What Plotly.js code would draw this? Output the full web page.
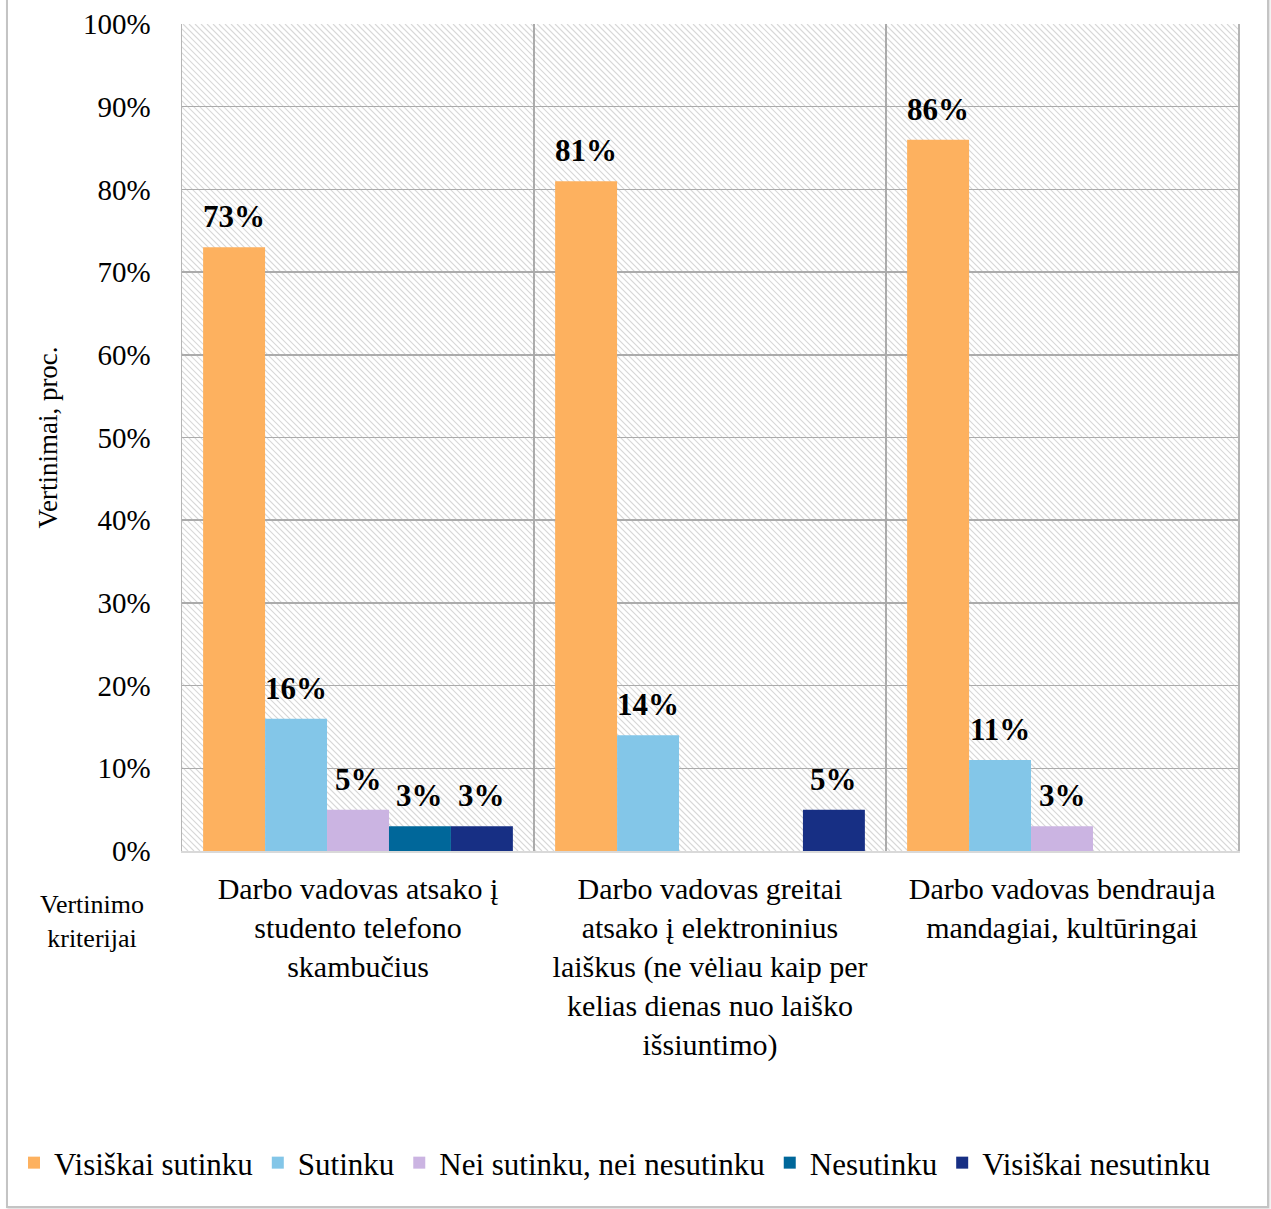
<!DOCTYPE html>
<html>
<head>
<meta charset="utf-8">
<script src="https://cdn.plot.ly/plotly-3.0.1.min.js"></script>
<style>
  html, body { margin: 0; padding: 0; background: #ffffff; }
  #wrap { position: relative; width: 1271px; height: 1209px; overflow: hidden; }
  #chart { width: 1271px; height: 1209px; }
  #frame { position: absolute; left: 6px; top: -6px; width: 1259px; height: 1210px;
           border: 2px solid #c4c4c4; box-shadow: 1px 1px 2px #d8d8d8; pointer-events: none; }
</style>
</head>
<body>
<div id="wrap">
  <div id="chart"></div>
  <div id="frame"></div>
</div>
<script>
// ---- data ----
const categories = [
  "Darbo vadovas atsako į<br>studento telefono<br>skambučius",
  "Darbo vadovas greitai<br>atsako į elektroninius<br>laiškus (ne vėliau kaip per<br>kelias dienas nuo laiško<br>išsiuntimo)",
  "Darbo vadovas bendrauja<br>mandagiai, kultūringai"
];
const seriesNames = ["Visiškai sutinku", "Sutinku", "Nei sutinku, nei nesutinku", "Nesutinku", "Visiškai nesutinku"];
const visiskaiSutinku   = [73, 81, 86];
const sutinku           = [16, 14, 11];
const neiSutinkuNei     = [5, 0, 3];
const nesutinku         = [3, 0, 0];
const visiskaiNesutinku = [3, 5, 0];
const yTickVals = [0, 10, 20, 30, 40, 50, 60, 70, 80, 90, 100];
const yTickText = yTickVals.map(v => v + "%");
const yTitle = "Vertinimai, proc.";
const xNote = "Vertinimo<br>kriterijai";

// ---- styles ----
const colors = ["#FDB15F", "#83C6E8", "#CBB4E2", "#00679A", "#172F84"];
const serif = 'Liberation Serif, Times New Roman, serif';
const margin = {l: 182, r: 33, t: 24, b: 358};
const W = 1271, H = 1209;
const plotW = W - margin.l - margin.r, plotH = H - margin.t - margin.b;
const bargap = 0.12;

const allSeries = [visiskaiSutinku, sutinku, neiSutinkuNei, nesutinku, visiskaiNesutinku];
const xIdx = categories.map((c, i) => i);

const traces = allSeries.map((vals, s) => ({
  type: "bar",
  name: seriesNames[s],
  x: xIdx,
  y: vals,
  marker: {color: colors[s], line: {width: 0}},
  hoverinfo: "y+name"
}));

// data labels above bars, placed through the axis scale
const nS = allSeries.length;
const slot = (1 - bargap) / nS;
const annotations = [];
allSeries.forEach((vals, s) => {
  vals.forEach((v, i) => {
    if (v > 0) {
      annotations.push({
        x: i - (1 - bargap) / 2 + slot * (s + 0.5),
        y: v, xref: "x", yref: "y",
        text: "<b>" + v + "%</b>",
        showarrow: false, yanchor: "bottom", xanchor: "center",
        yshift: 11,
        font: {family: serif, size: 31, color: "#000000"}
      });
    }
  });
});
annotations.push({
  x: (92 - margin.l) / plotW, y: -(922 - (H - margin.b)) / plotH,
  xref: "paper", yref: "paper",
  text: xNote, showarrow: false, xanchor: "center", yanchor: "middle",
  font: {family: serif, size: 26, color: "#000000"}
});

// diagonal hatch background as an inline svg image
const step = 6;
let paths = "";
for (let k = -plotH; k < plotW + plotH; k += step) {
  paths += "M" + k + ",0L" + (k + plotH) + "," + plotH;
}
const svg = '<svg xmlns="http://www.w3.org/2000/svg" width="' + plotW + '" height="' + plotH +
  '" viewBox="0 0 ' + plotW + ' ' + plotH + '"><rect width="100%" height="100%" fill="#ffffff"/>' +
  '<path d="' + paths + '" stroke="#d8d8d8" stroke-width="1.2" fill="none"/></svg>';
const hatch = "data:image/svg+xml;base64," + btoa(svg);

const layout = {
  width: W, height: H,
  margin: margin,
  paper_bgcolor: "#ffffff",
  plot_bgcolor: "#ffffff",
  barmode: "group",
  bargap: bargap,
  bargroupgap: 0,
  showlegend: true,
  font: {family: serif, color: "#000000"},
  images: [{
    source: hatch, xref: "paper", yref: "paper", x: 0, y: 1,
    sizex: 1, sizey: 1, sizing: "stretch", xanchor: "left", yanchor: "top",
    layer: "below"
  }],
  xaxis: {
    type: "linear",
    range: [-0.5, 2.5],
    tickmode: "array",
    tickvals: xIdx,
    ticktext: categories,
    showgrid: false,
    zeroline: false,
    showline: true,
    linecolor: "#d9d9d9",
    linewidth: 2,
    ticks: "",
    ticklabelstandoff: 10,
    automargin: false,
    tickfont: {family: serif, size: 30, color: "#000000"},
    minor: {tick0: 0.5, dtick: 1, showgrid: true, gridcolor: "#ababab", gridwidth: 1.5, ticks: ""}
  },
  yaxis: {
    range: [0, 100],
    tickmode: "array",
    tickvals: yTickVals,
    ticktext: yTickText,
    showgrid: true,
    gridcolor: "#ababab",
    gridwidth: 1.5,
    zeroline: false,
    showline: true,
    mirror: true,
    linecolor: "#b5b5b5",
    linewidth: 1.5,
    ticks: "",
    automargin: false,
    ticklabelstandoff: 24,
    tickfont: {family: serif, size: 29, color: "#000000"},
    title: {text: yTitle, font: {family: serif, size: 27, color: "#000000"}, standoff: 17}
  },
  legend: {
    orientation: "h",
    x: (14 - margin.l) / plotW, xanchor: "left",
    y: -(1163 - (H - margin.b)) / plotH, yanchor: "middle",
    font: {family: serif, size: 31, color: "#000000"},
    bgcolor: "rgba(0,0,0,0)",
    traceorder: "normal",
    tracegroupgap: 0
  },
  annotations: annotations
};

Plotly.newPlot("chart", traces, layout, {displayModeBar: false, staticPlot: true});
</script>
</body>
</html>
